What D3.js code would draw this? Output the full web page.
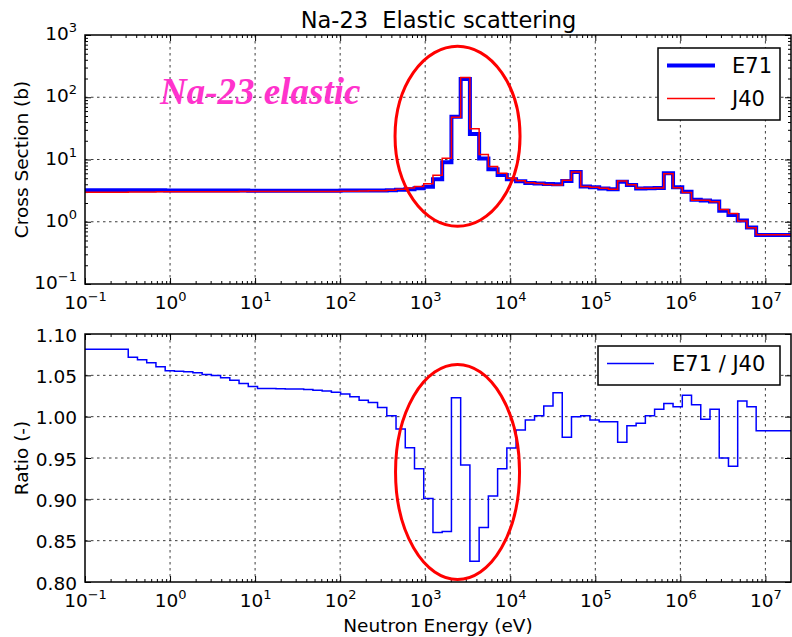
<!DOCTYPE html>
<html>
<head>
<meta charset="utf-8">
<script src="https://cdn.jsdelivr.net/npm/d3@7"></script>
<style>
  body { margin: 0; background: #fff; }
  svg text { font-family: "DejaVu Sans", "Bitstream Vera Sans", sans-serif; }
  svg text.note { font-family: "Liberation Serif", "Times New Roman", serif; }
</style>
</head>
<body>
<svg id="chart" width="792" height="637"></svg>
<script>
// 70-group structure (0.25 lethargy width), upper bound of each group in eV, group 1 first
var groupUpper = [1.0000e7, 7.7880e6, 6.0653e6, 4.7237e6, 3.6788e6, 2.8650e6, 2.2313e6, 1.7377e6, 1.3534e6, 1.0540e6,
  8.2085e5, 6.3928e5, 4.9787e5, 3.8774e5, 3.0197e5, 2.3518e5, 1.8316e5, 1.4264e5, 1.1109e5, 8.6517e4,
  6.7379e4, 5.2475e4, 4.0868e4, 3.1828e4, 2.4788e4, 1.9305e4, 1.5034e4, 1.1709e4, 9.1188e3, 7.1017e3,
  5.5308e3, 4.3074e3, 3.3546e3, 2.6126e3, 2.0347e3, 1.5846e3, 1.2341e3, 961.12, 748.52, 582.95,
  454.00, 353.57, 275.36, 214.45, 167.02, 130.07, 101.30, 78.893, 61.442, 47.851,
  37.267, 29.023, 22.603, 17.603, 13.710, 10.677, 8.3153, 6.4760, 5.0435, 3.9279,
  3.0590, 2.3824, 1.8554, 1.4450, 1.1254, 0.87642, 0.68256, 0.53158, 0.41399, 0.32242];
var groupLowest = 1e-5;

// elastic cross section (b), group 1 .. 70
var e71 = [0.61, 0.81, 1.05, 1.28, 1.50, 2.12, 2.20, 2.25, 3.04, 3.57,
  6.00, 3.50, 3.45, 3.42, 3.89, 4.39, 3.32, 3.42, 3.57, 3.70,
  6.30, 4.52, 4.00, 4.03, 4.10, 4.20, 4.47, 4.81, 5.64, 6.96,
  10.4, 25.7, 196, 48.8, 9.00, 4.81, 3.66, 3.44, 3.34, 3.28,
  3.22, 3.19, 3.19, 3.18, 3.17, 3.17, 3.16, 3.16, 3.16, 3.16,
  3.16, 3.16, 3.16, 3.16, 3.16, 3.16, 3.17, 3.17, 3.17, 3.18,
  3.18, 3.18, 3.19, 3.19, 3.19, 3.20, 3.20, 3.21, 3.21, 3.22];
var j40 = [0.62, 0.80, 1.03, 1.36, 1.58, 2.10, 2.21, 2.22, 2.96, 3.53,
  5.91, 3.47, 3.45, 3.45, 3.93, 4.53, 3.34, 3.44, 3.58, 3.70,
  6.30, 4.64, 3.89, 3.98, 4.10, 4.22, 4.54, 5.00, 6.02, 7.70,
  12.0, 31.2, 208, 47.7, 10.45, 5.59, 4.06, 3.67, 3.47, 3.33,
  3.22, 3.16, 3.14, 3.12, 3.10, 3.09, 3.07, 3.07, 3.06, 3.06,
  3.06, 3.06, 3.06, 3.06, 3.06, 3.05, 3.05, 3.04, 3.03, 3.03,
  3.03, 3.02, 3.03, 3.02, 3.02, 3.02, 3.00, 3.00, 3.00, 2.98];
// E71 / J40
var ratio = [0.983, 1.012, 1.019, 0.940, 0.950, 1.009, 0.997, 1.0145, 1.026, 1.012,
  1.016, 1.009, 1.001, 0.992, 0.989, 0.969, 0.994, 0.994, 0.996, 1.001,
  1.000, 0.975, 1.029, 1.013, 1.001, 0.996, 0.984, 0.962, 0.937, 0.904,
  0.866, 0.825, 0.9415, 1.023, 0.861, 0.860, 0.901, 0.937, 0.9625, 0.985,
  1.001, 1.011, 1.017, 1.020, 1.024, 1.0274, 1.0295, 1.031, 1.032, 1.033,
  1.0334, 1.0336, 1.0338, 1.034, 1.0342, 1.0365, 1.040, 1.044, 1.047, 1.0497,
  1.051, 1.053, 1.0543, 1.055, 1.0556, 1.0604, 1.0653, 1.0689, 1.0718, 1.0815];

var xTicks = [1e-1, 1e0, 1e1, 1e2, 1e3, 1e4, 1e5, 1e6, 1e7];
var xsTicks = [1e-1, 1e0, 1e1, 1e2, 1e3];
var ratioTicks = [0.80, 0.85, 0.90, 0.95, 1.00, 1.05, 1.10];

var W = 792, H = 637;
var left = 85, right = 791;
var top1 = 35, bot1 = 284;   // cross section panel
var top2 = 334, bot2 = 582;  // ratio panel

var svg = d3.select('#chart');
svg.append('rect').attr('width', W).attr('height', H).attr('fill', '#fff');

var x = d3.scaleLog().domain([1e-1, 2e7]).range([left, right]);
var yXs = d3.scaleLog().domain([1e-1, 1e3]).range([bot1, top1]);
var yR = d3.scaleLinear().domain([0.80, 1.10]).range([bot2, top2]);

function logMinors(lo, hi) {
  var out = [];
  for (var k = Math.floor(Math.log10(lo)); k <= Math.ceil(Math.log10(hi)); k++) {
    for (var m = 2; m < 10; m++) {
      var v = m * Math.pow(10, k);
      if (v > lo && v < hi) out.push(v);
    }
  }
  return out;
}

function supLabel(sel) {
  sel.each(function(d) {
    var e = Math.round(Math.log10(d));
    var t = d3.select(this).text(null);
    t.append('tspan').text('10');
    t.append('tspan').attr('dy', -8).attr('font-size', 13)
      .text(e < 0 ? '\u2212' + (-e) : '' + e);
  });
}

// steps: one point at the lower edge of each group, low energy first
function stepPoints(vals) {
  var pts = [];
  for (var g = vals.length - 1; g >= 0; g--) {
    var lo = g == vals.length - 1 ? groupLowest : groupUpper[g + 1];
    pts.push([lo, vals[g]]);
  }
  pts.push([x.domain()[1], vals[0]]);
  return pts;
}

function panel(y, yTop, yBot, yTicks, yMinors, id) {
  var g = svg.append('g');
  g.append('clipPath').attr('id', id).append('rect')
    .attr('x', left).attr('y', yTop).attr('width', right - left).attr('height', yBot - yTop);

  // grid
  var grid = g.append('g').attr('stroke', '#000').attr('stroke-width', 0.9)
    .attr('stroke-dasharray', '2.5,3.5').attr('opacity', 0.85);
  grid.selectAll('.gx').data(xTicks.slice(1)).enter().append('line')
    .attr('x1', d => x(d)).attr('x2', d => x(d)).attr('y1', yTop).attr('y2', yBot);
  grid.selectAll('.gy').data(yTicks.slice(1, -1)).enter().append('line')
    .attr('x1', left).attr('x2', right).attr('y1', d => y(d)).attr('y2', d => y(d));

  var axes = g.append('g').attr('class', 'axes');
  function put(axis, tx, ty) {
    var a = axes.append('g').attr('transform', 'translate(' + tx + ',' + ty + ')').call(axis);
    a.select('.domain').remove();
    a.selectAll('.tick line').attr('stroke', '#000').attr('stroke-width', 1);
    return a;
  }
  var bx = put(d3.axisBottom(x).tickValues(xTicks).tickSizeInner(-6).tickSizeOuter(0), 0, yBot);
  bx.selectAll('.tick text').attr('y', 25).attr('dy', null).attr('font-size', 18.5)
    .attr('fill', '#000').call(supLabel);
  put(d3.axisBottom(x).tickValues(logMinors(1e-1, 2e7)).tickSizeInner(-3).tickSizeOuter(0).tickFormat(''), 0, yBot);
  put(d3.axisTop(x).tickValues(xTicks).tickSizeInner(-6).tickSizeOuter(0).tickFormat(''), 0, yTop);
  put(d3.axisTop(x).tickValues(logMinors(1e-1, 2e7)).tickSizeInner(-3).tickSizeOuter(0).tickFormat(''), 0, yTop);

  var ly = put(d3.axisLeft(y).tickValues(yTicks).tickSizeInner(-6).tickSizeOuter(0), left, 0);
  ly.selectAll('.tick text').attr('x', -8).attr('dy', null).attr('font-size', 18.5).attr('fill', '#000');
  put(d3.axisRight(y).tickValues(yTicks).tickSizeInner(-6).tickSizeOuter(0).tickFormat(''), right, 0);
  if (yMinors) {
    put(d3.axisLeft(y).tickValues(yMinors).tickSizeInner(-3).tickSizeOuter(0).tickFormat(''), left, 0);
    put(d3.axisRight(y).tickValues(yMinors).tickSizeInner(-3).tickSizeOuter(0).tickFormat(''), right, 0);
  }
  return { g: g, ly: ly };
}

// ---- top panel: cross sections
var p1 = panel(yXs, top1, bot1, xsTicks, logMinors(1e-1, 1e3), 'clip1');
p1.ly.selectAll('.tick text').attr('y', 4.5).call(supLabel);

var line1 = d3.line().x(d => x(d[0])).y(d => yXs(d[1])).curve(d3.curveStepAfter);
var lines1 = p1.g.append('g').attr('clip-path', 'url(#clip1)').attr('fill', 'none');
lines1.append('path').attr('d', line1(stepPoints(e71)))
  .attr('stroke', '#0000ff').attr('stroke-width', 4).attr('stroke-linejoin', 'miter');
lines1.append('path').attr('d', line1(stepPoints(j40)))
  .attr('stroke', '#ff0000').attr('stroke-width', 1.5);

// ---- bottom panel: ratio
var p2 = panel(yR, top2, bot2, ratioTicks, null, 'clip2');
p2.ly.selectAll('.tick text').attr('y', 7).text(d => d3.format('.2f')(d));

var line2 = d3.line().x(d => x(d[0])).y(d => yR(d[1])).curve(d3.curveStepAfter);
p2.g.append('g').attr('clip-path', 'url(#clip2)').append('path')
  .attr('d', line2(stepPoints(ratio)))
  .attr('fill', 'none').attr('stroke', '#0000ff').attr('stroke-width', 1.5);

// frames
[[top1, bot1], [top2, bot2]].forEach(function(p) {
  svg.append('rect').attr('x', left).attr('y', p[0]).attr('width', right - left)
    .attr('height', p[1] - p[0]).attr('fill', 'none').attr('stroke', '#000').attr('stroke-width', 1.5);
});

// titles and labels
svg.append('text').attr('x', 438.5).attr('y', 28).attr('text-anchor', 'middle')
  .attr('font-size', 22.5).style('white-space', 'pre').text('Na-23  Elastic scattering');
svg.append('text').attr('transform', 'translate(28,' + (top1 + bot1) / 2 + ') rotate(-90)')
  .attr('text-anchor', 'middle').attr('font-size', 18.5).text('Cross Section (b)');
svg.append('text').attr('transform', 'translate(28,' + (top2 + bot2) / 2 + ') rotate(-90)')
  .attr('text-anchor', 'middle').attr('font-size', 18.5).text('Ratio (-)');
svg.append('text').attr('x', (left + right) / 2).attr('y', 632).attr('text-anchor', 'middle')
  .attr('font-size', 18.5).text('Neutron Energy (eV)');

// legends
var lg1 = svg.append('g');
lg1.append('rect').attr('x', 658).attr('y', 48).attr('width', 122).attr('height', 72)
  .attr('fill', '#fff').attr('stroke', '#000').attr('stroke-width', 1.5);
lg1.append('line').attr('x1', 667).attr('x2', 715).attr('y1', 65.5).attr('y2', 65.5)
  .attr('stroke', '#0000ff').attr('stroke-width', 4);
lg1.append('line').attr('x1', 667).attr('x2', 715).attr('y1', 98.5).attr('y2', 98.5)
  .attr('stroke', '#ff0000').attr('stroke-width', 1.5);
lg1.append('text').attr('x', 732).attr('y', 73).attr('font-size', 21).text('E71');
lg1.append('text').attr('x', 732).attr('y', 106).attr('font-size', 21).text('J40');

var lg2 = svg.append('g');
lg2.append('rect').attr('x', 598).attr('y', 346).attr('width', 182).attr('height', 39)
  .attr('fill', '#fff').attr('stroke', '#000').attr('stroke-width', 1.5);
lg2.append('line').attr('x1', 607).attr('x2', 654).attr('y1', 363.5).attr('y2', 363.5)
  .attr('stroke', '#0000ff').attr('stroke-width', 1.5);
lg2.append('text').attr('x', 672).attr('y', 371).attr('font-size', 21).text('E71 / J40');

// annotations
svg.append('text').attr('class', 'note').attr('x', 160).attr('y', 104)
  .attr('font-weight', 'bold').attr('font-style', 'italic').attr('font-size', 37)
  .attr('fill', '#ff33cc').text('Na-23 elastic');
svg.append('ellipse').attr('cx', x(2.4e3)).attr('cy', yXs(23.6)).attr('rx', 62.5).attr('ry', 90)
  .attr('fill', 'none').attr('stroke', '#ff0000').attr('stroke-width', 3);
svg.append('ellipse').attr('cx', x(2.4e3)).attr('cy', yR(0.933)).attr('rx', 62).attr('ry', 107.5)
  .attr('fill', 'none').attr('stroke', '#ff0000').attr('stroke-width', 3);
</script>
</body>
</html>
